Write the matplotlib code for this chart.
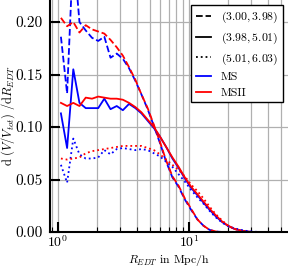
import numpy as np
import matplotlib
matplotlib.use('Agg')
import matplotlib.pyplot as plt
from matplotlib.ticker import FormatStrFormatter, LogLocator

plt.rcParams['font.family'] = 'serif'
plt.rcParams['font.serif'] = ['cmr10']
plt.rcParams['mathtext.fontset'] = 'cm'
plt.rcParams['axes.formatter.use_mathtext'] = True
plt.rcParams['axes.unicode_minus'] = False

# bin centres in Mpc/h
R = [1.054, 1.175, 1.31, 1.46, 1.63, 1.82, 2.03, 2.26, 2.52, 2.81,
     3.13, 3.49, 3.9, 4.34, 4.84, 5.4, 6.0, 6.7, 7.48, 8.34,
     9.3, 10.4, 11.6, 12.9, 14.4, 16.0, 17.9, 19.9, 22.2, 24.8,
     27.6, 30.8, 34.3, 38.3, 42.7, 47.6, 53.0]

# MS, range (3.00, 3.98)
ms_a = [0.186, 0.132, 0.270, 0.200, 0.192, 0.185, 0.182, 0.186, 0.166, 0.170,
        0.165, 0.156, 0.144, 0.131, 0.117, 0.101, 0.085, 0.067, 0.052, 0.043,
        0.031, 0.021, 0.012, 0.006, 0.002, 0.0005, 0, 0, 0, 0,
        0, 0, 0, 0, 0, 0, 0]
# MSII, range (3.00, 3.98)
msii_a = [0.204, 0.196, 0.200, 0.190, 0.197, 0.193, 0.191, 0.189, 0.183, 0.176,
          0.168, 0.157, 0.145, 0.131, 0.118, 0.102, 0.086, 0.068, 0.053, 0.044,
          0.032, 0.022, 0.012, 0.006, 0.002, 0.0005, 0, 0, 0, 0,
          0, 0, 0, 0, 0, 0, 0]
# MS, range (3.98, 5.01)
ms_b = [0.113, 0.080, 0.155, 0.123, 0.118, 0.118, 0.118, 0.127, 0.117, 0.120,
        0.116, 0.122, 0.118, 0.113, 0.106, 0.099, 0.091, 0.081, 0.070, 0.061,
        0.051, 0.042, 0.035, 0.028, 0.021, 0.015, 0.0095, 0.0058, 0.003, 0.0015,
        0.0005, 0, 0, 0, 0, 0, 0]
# MSII, range (3.98, 5.01)
msii_b = [0.123, 0.120, 0.123, 0.120, 0.128, 0.127, 0.129, 0.128, 0.127, 0.127,
          0.126, 0.123, 0.119, 0.114, 0.107, 0.100, 0.091, 0.081, 0.071, 0.062,
          0.052, 0.043, 0.036, 0.029, 0.022, 0.016, 0.010, 0.006, 0.003, 0.0015,
          0.0005, 0, 0, 0, 0, 0, 0]
# MS, range (5.01, 6.03)
ms_c = [0.064, 0.047, 0.089, 0.074, 0.070, 0.070, 0.071, 0.078, 0.074, 0.079,
        0.080, 0.079, 0.078, 0.079, 0.078, 0.075, 0.072, 0.067, 0.062, 0.055,
        0.048, 0.040, 0.033, 0.027, 0.020, 0.014, 0.009, 0.0055, 0.0035, 0.002,
        0.001, 0.0004, 0, 0, 0, 0, 0]
# MSII, range (5.01, 6.03)
msii_c = [0.070, 0.069, 0.070, 0.071, 0.075, 0.077, 0.078, 0.079, 0.080, 0.081,
          0.082, 0.082, 0.082, 0.082, 0.080, 0.078, 0.074, 0.069, 0.064, 0.059,
          0.053, 0.045, 0.039, 0.032, 0.024, 0.017, 0.011, 0.006, 0.003, 0.001,
          0, 0, 0, 0, 0, 0, 0]

range_labels = ['$(3.00, 3.98)$', '$(3.98, 5.01)$', '$(5.01, 6.03)$']
styles = ['--', '-', ':']

fig = plt.figure(figsize=(2.88, 2.69), dpi=100)
ax = fig.add_axes([50/288, 37/269, 1 - 50/288, 1 - 37/269])

lw = 1.3
for ms, msii, ls in zip([ms_a, ms_b, ms_c], [msii_a, msii_b, msii_c], styles):
    ax.plot(R, ms, ls, color='blue', lw=lw)
    ax.plot(R, msii, ls, color='red', lw=lw)

# legend proxies
for lab, ls in zip(range_labels, styles):
    ax.plot([], [], ls, color='black', lw=lw, label=lab)
ax.plot([], [], '-', color='blue', lw=lw, label='MS')
ax.plot([], [], '-', color='red', lw=lw, label='MSII')

ax.set_xscale('log')
ax.set_xlim(0.87, 57)
ax.set_ylim(0, 0.221)
ax.yaxis.set_major_formatter(FormatStrFormatter('%.2f'))
ax.set_yticks([0.0, 0.05, 0.10, 0.15, 0.20])
ax.xaxis.set_minor_locator(LogLocator(base=10, subs=np.arange(2, 10)))

ax.grid(True, which='both', axis='x', color='#b0b0b0', lw=0.9)
ax.grid(True, which='major', axis='y', color='#b0b0b0', lw=0.9)
ax.set_axisbelow(True)

ax.tick_params(which='major', direction='in', length=7, width=1.5)
ax.tick_params(axis='x', which='major', labelsize=10, pad=1.5)
ax.tick_params(axis='y', which='major', labelsize=11, pad=5)
ax.tick_params(which='minor', direction='in', length=3.5, width=0.8)
ax.spines['top'].set_visible(False)
ax.spines['right'].set_visible(False)
ax.spines['left'].set_linewidth(1.5)
ax.spines['bottom'].set_linewidth(1.5)

ax.set_xlabel('$R_{EDT}$ in Mpc/h', fontsize=8.5)
ax.xaxis.set_label_coords(0.5, -20.5/232)
ax.set_ylabel(r'$\mathrm{d}\ (V/V_{tot})\ /\mathrm{d}R_{EDT}$', fontsize=9)
ax.yaxis.set_label_coords(-33/238, 0.5)

leg = ax.legend(loc='upper right', fontsize=8.5, fancybox=False, framealpha=1,
                edgecolor='black', borderaxespad=0.45, handlelength=1.3,
                labelspacing=0.45)
leg.get_frame().set_linewidth(1.0)

fig.savefig('out.png', dpi=100)
